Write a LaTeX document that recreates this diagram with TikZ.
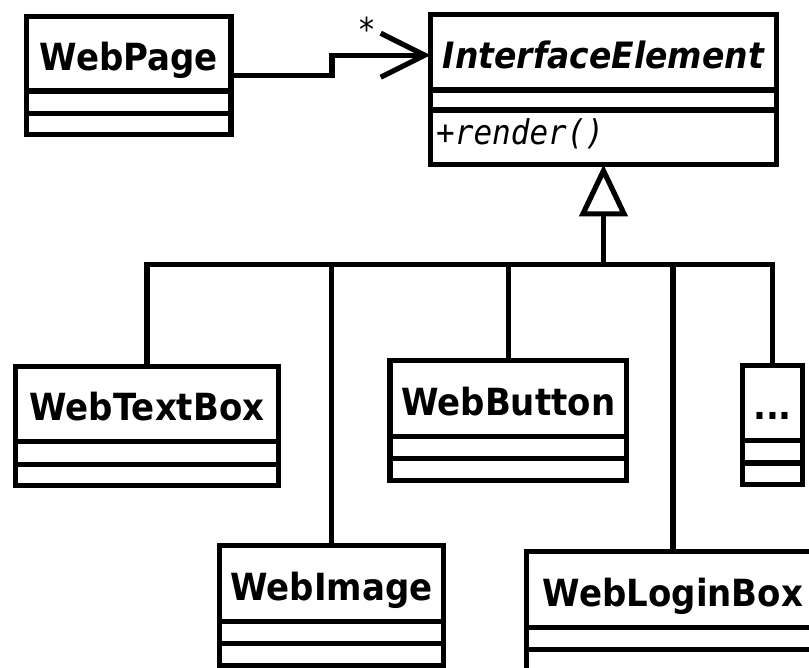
\documentclass[tikz,border=0pt]{standalone}
\usepackage{fontspec}
\usepackage{graphicx}
\setmainfont{DejaVu Sans}
\setmonofont{DejaVu Sans Mono}
\usetikzlibrary{arrows.meta}
\newcommand{\tallbox}[1]{\scalebox{1}[1.1]{#1}}
\tikzset{
  lw/.style={line width=5.2pt},
  clsbox/.style={draw, lw, rectangle, inner sep=0pt, outer sep=0pt, fill=white},
  clsline/.style={lw},
  clsname/.style={inner sep=0pt, anchor=base, font=\fontsize{34}{38}\selectfont\bfseries},
  conn/.style={lw},
  assoc/.style={lw, -{Straight Barb[length=44pt,width=44pt]}},
  gen/.style={lw, -{Triangle[open,length=52pt,width=48pt,fill=white]}},
}
% #1 name, #2 x1, #3 y1, #4 x2, #5 y2, #6 divider1, #7 divider2, #8 text
\newcommand{\umlcls}[8]{%
  \node[clsbox, minimum width={#4pt-#2pt}, minimum height={#5pt-#3pt}, anchor=north west] (#1) at (#2,#3) {};
  \draw[clsline] (#2,#6) -- (#4,#6);
  \draw[clsline] (#2,#7) -- (#4,#7);
  \node[clsname] (#1-name) at ({(#2+#4)/2},{(#3+#6)/2+16.5}) {\tallbox{#8}};
}
\begin{document}
\begin{tikzpicture}[x=1pt,y=-1pt]
\useasboundingbox (0,0) rectangle (809,668);
\fill[white] (0,0) rectangle (809,668);
\clip (0,0) rectangle (809,668);

\umlcls{wp}{26.5}{16.5}{231}{134.5}{91}{113.5}{WebPage}
\umlcls{ie}{430.5}{14.5}{776.5}{164.5}{90}{110}{\fontsize{33}{36}\selectfont\itshape InterfaceElement}
\node[inner sep=0pt, anchor=base west, font=\fontsize{31}{34}\selectfont\ttfamily\itshape] (ie-op) at (436,145) {\tallbox{+render()}};
\umlcls{wtb}{15.5}{366.5}{278.5}{485.5}{441.5}{464.5}{WebTextBox}
\umlcls{wbt}{390}{360.5}{626.5}{480.5}{436.5}{458.5}{WebButton}
\umlcls{more}{742.5}{365.5}{802.5}{484.5}{440.5}{463}{...}
\umlcls{wim}{219.5}{545.5}{443.5}{665.5}{621.5}{643.5}{WebImage}
\umlcls{wlb}{526.5}{551.5}{819.5}{720}{627.5}{649.5}{WebLoginBox}

% association
\draw[assoc] (wp.east) -- ++(101,0) |- (ie.west |- ie-name.center);
\node[inner sep=0pt, font=\fontsize{30}{32}\selectfont] (mult) at (367,29) {\tallbox{*}};

% generalization
\coordinate (hub) at (603.5,264.5);
\draw[gen] (hub) -- (ie.south);
\draw[conn] (wtb.north) |- (hub) -| (more.north);
\draw[conn] (wim.north) -- (wim.north |- hub);
\draw[conn] (wbt.north) -- (wbt.north |- hub);
\draw[conn] (wlb.north) -- (wlb.north |- hub);
\end{tikzpicture}
\end{document}
